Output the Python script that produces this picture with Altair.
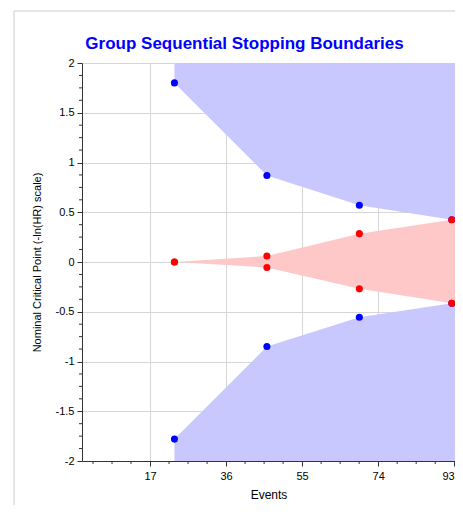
import altair as alt
import pandas as pd

# ---- data ----
events = [23.1, 46.2, 69.3, 92.4]
upper_eff = [1.80, 0.87, 0.57, 0.425]
lower_eff = [-1.78, -0.85, -0.555, -0.415]
upper_fut = [0.0, 0.06, 0.285, 0.425]
lower_fut = [0.0, -0.055, -0.27, -0.415]

title_text = "Group Sequential Stopping Boundaries"
x_domain = [0, 93.2]
y_domain = [-2, 2]
x_ticks = [17, 36, 55, 74, 93]
y_ticks = [-2, -1.5, -1, -0.5, 0, 0.5, 1, 1.5, 2]
x_minor = [2.75, 7.5, 12.25, 21.75, 26.5, 31.25, 40.75, 45.5, 50.25,
           59.75, 64.5, 69.25, 78.75, 83.5, 88.25]
y_minor = [-1.875, -1.75, -1.625, -1.375, -1.25, -1.125, -0.875, -0.75, -0.625,
           -0.375, -0.25, -0.125, 0.125, 0.25, 0.375, 0.625, 0.75, 0.875,
           1.125, 1.25, 1.375, 1.625, 1.75, 1.875]

PAD_L, PAD_T, PAD_B = 74, 55, 44
W, H = 373, 398
FONT = "Liberation Sans"

xs = alt.Scale(domain=x_domain, nice=False, zero=False)
ys = alt.Scale(domain=y_domain, nice=False, zero=False)

xax = alt.Axis(values=x_ticks, grid=True, gridColor="#d6d6d6", tickSize=5,
               tickColor="#333333", domainColor="#333333", labelFontSize=11,
               labelColor="#000000", labelPadding=4, title="Events",
               titleFontSize=12, titleFontWeight="normal", titleColor="#000000",
               titleY=37, titleBaseline="alphabetic", labelFont=FONT, titleFont=FONT)
yax = alt.Axis(values=y_ticks, grid=True, gridColor="#d6d6d6", tickSize=5,
               tickColor="#333333", domainColor="#333333", labelFontSize=11,
               labelColor="#000000", labelPadding=3, labelExpr="datum.value + ''",
               title="Nominal Critical Point (-ln(HR) scale)", titleFontSize=11,
               titleFontWeight="normal", titleColor="#000000", titleAngle=270,
               titleX=-45, titleY=199, titleBaseline="middle", titleAlign="center",
               labelFont=FONT, titleFont=FONT)

# rejection / continuation regions (extend to right edge of plot)
ax = events + [x_domain[1]]
up_df = pd.DataFrame({"x": ax, "y": upper_eff + [upper_eff[-1]], "y2": [y_domain[1]] * len(ax)})
lo_df = pd.DataFrame({"x": ax, "y": lower_eff + [lower_eff[-1]], "y2": [y_domain[0]] * len(ax)})
fut_df = pd.DataFrame({"x": ax, "y": upper_fut + [upper_fut[-1]], "y2": lower_fut + [lower_fut[-1]]})

pts = pd.DataFrame({
    "x": events * 4,
    "y": upper_eff + lower_eff + upper_fut + lower_fut,
    "kind": ["eff"] * 8 + ["fut"] * 8,
})

one = pd.DataFrame({"a": [0]})
frame = alt.Chart(one).mark_rect(
    fillOpacity=0, stroke="#cccccc", strokeWidth=1, clip=False
).encode(x=alt.value(-68), x2=alt.value(W + 60), y=alt.value(-52), y2=alt.value(H + 80))

title = alt.Chart(one).mark_text(
    text=title_text, font=FONT, fontSize=17, fontWeight="bold", color="#0000ff",
    align="center", baseline="alphabetic", clip=False
).encode(x=alt.value(244.5 - 8 - PAD_L), y=alt.value(-14))

def area(df, color):
    return alt.Chart(df).mark_area(color=color, opacity=1).encode(
        x=alt.X("x:Q", scale=xs, axis=xax),
        y=alt.Y("y:Q", scale=ys, axis=yax),
        y2="y2:Q",
    )

up = area(up_df, "#c8c8ff")
lo = area(lo_df, "#c8c8ff")
fut = area(fut_df, "#ffc8c8")

points = alt.Chart(pts).mark_point(filled=True, size=50, opacity=1, shape="circle").encode(
    x=alt.X("x:Q", scale=xs, axis=xax),
    y=alt.Y("y:Q", scale=ys, axis=yax),
    color=alt.Color("kind:N", scale=alt.Scale(domain=["eff", "fut"], range=["#0000ff", "#ff0000"]), legend=None),
)

xmin = alt.Chart(pd.DataFrame({"x": x_minor})).mark_rule(color="#333333", clip=False).encode(
    x=alt.X("x:Q", scale=xs, axis=xax), y=alt.value(H), y2=alt.value(H + 3))
ymin = alt.Chart(pd.DataFrame({"y": y_minor})).mark_rule(color="#333333", clip=False).encode(
    y=alt.Y("y:Q", scale=ys, axis=yax), x=alt.value(-3), x2=alt.value(0))

chart = alt.layer(frame, up, lo, fut, points, xmin, ymin, title).properties(
    width=W, height=H,
    autosize=alt.AutoSizeParams(type="none"),
    padding={"left": PAD_L, "top": PAD_T, "right": 0, "bottom": PAD_B},
).configure_view(stroke="#555555", strokeWidth=1).configure(background="white")

chart.save("out.html", embed_options={"renderer": "svg", "actions": False})
